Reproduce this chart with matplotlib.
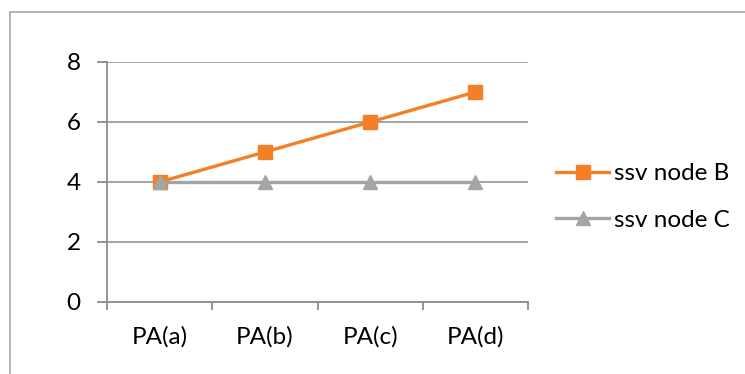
import matplotlib
matplotlib.use("Agg")
import matplotlib.pyplot as plt
from matplotlib.lines import Line2D
import numpy as np

categories = ["PA(a)", "PA(b)", "PA(c)", "PA(d)"]
node_b = [4, 5, 6, 7]
node_c = [4, 4, 4, 4]
series_names = ["ssv node B", "ssv node C"]
y_ticks = [0, 2, 4, 6, 8]

plt.rcParams["font.family"] = ["Lato", "DejaVu Sans"]

W, H, DPI = 745, 374, 100
fig = plt.figure(figsize=(W / DPI, H / DPI), dpi=DPI)
ax = fig.add_axes([107 / W, 1 - 302 / H, (528 - 107) / W, (302 - 62) / H])

orange = "#F47F26"
grey = "#A5A5A5"
axis_grey = "#8C8C8C"
fs = 17.5

x = np.arange(len(categories))
ax.plot(x, node_b, color=orange, lw=2.4, marker="s", ms=10, mfc=orange, mec=orange,
        label=series_names[0], zorder=3)
ax.plot(x, node_c, color=grey, lw=2.4, marker="^", ms=10.5, mfc=grey, mec=grey,
        label=series_names[1], zorder=4)

ax.set_xlim(-0.5, len(categories) - 0.5)
ax.set_ylim(min(y_ticks), max(y_ticks))
ax.set_yticks(y_ticks)
ax.set_yticklabels([str(v) for v in y_ticks])

# tick marks at category boundaries, labels at category centres
ax.set_xticks(np.arange(-0.5, len(categories), 1.0))
ax.set_xticklabels([])
ax.set_xticks(x, minor=True)
ax.set_xticklabels(categories, minor=True)
ax.tick_params(axis="x", which="major", length=6, width=1.3, color=axis_grey, direction="out")
ax.tick_params(axis="x", which="minor", length=0, pad=17, labelsize=fs)
ax.tick_params(axis="y", length=7, width=1.3, color=axis_grey, pad=12, labelsize=fs)

ax.grid(axis="y", color=axis_grey, lw=1.1, zorder=0)
ax.set_axisbelow(True)
for side in ["top", "right"]:
    ax.spines[side].set_visible(False)
for side in ["left", "bottom"]:
    ax.spines[side].set_color(axis_grey)
    ax.spines[side].set_linewidth(1.3)

handles, labels = ax.get_legend_handles_labels()
fig.legend(handles, labels, loc="center left",
           bbox_to_anchor=(556 / W, 1 - 197 / H), frameon=False, fontsize=fs,
           handlelength=2.2, handletextpad=0.2, labelspacing=1.05, borderpad=0,
           borderaxespad=0)

# chart border (left and top edges)
fig.add_artist(Line2D([10 / W, 10 / W], [0, 1 - 12 / H], color="#ADADAD", lw=1.3,
                      transform=fig.transFigure))
fig.add_artist(Line2D([10 / W, 1], [1 - 12 / H, 1 - 12 / H], color="#ADADAD", lw=1.3,
                      transform=fig.transFigure))

fig.savefig("out.png", dpi=DPI)
